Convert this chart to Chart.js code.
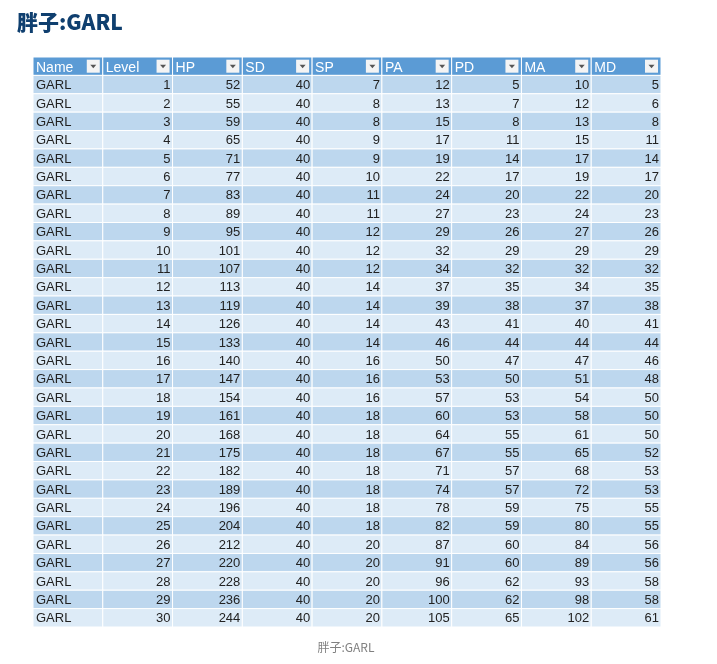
<!DOCTYPE html>
<html>
<head>
<meta charset="utf-8">
<script src="https://cdn.jsdelivr.net/npm/chart.js@4"></script>
<style>
  body { margin: 0; background: #fff; }
  #wrap { position: relative; width: 717px; height: 664px; }
  #title { position: absolute; left: 17px; top: 6px; font: 900 21px "Noto Sans CJK SC", "Liberation Sans", sans-serif; color: #0f3f6f; }
  #caption { position: absolute; left: 0; width: 692px; top: 638px; text-align: center; font: 12px "Noto Sans CJK SC", "Liberation Sans", sans-serif; color: #808080; }
  canvas { position: absolute; left: 0; top: 0; }
</style>
</head>
<body>
<div id="wrap">
  <canvas id="tabla" width="717" height="664"></canvas>
  <div id="title">胖子:GARL</div>
  <div id="caption">胖子:GARL</div>
</div>
<script>
const columnas = ["Name", "Level", "HP", "SD", "SP", "PA", "PD", "MA", "MD"];
const nombre = "GARL";
const level = [1,2,3,4,5,6,7,8,9,10,11,12,13,14,15,16,17,18,19,20,21,22,23,24,25,26,27,28,29,30];
const hp = [52,55,59,65,71,77,83,89,95,101,107,113,119,126,133,140,147,154,161,168,175,182,189,196,204,212,220,228,236,244];
const sd = [40,40,40,40,40,40,40,40,40,40,40,40,40,40,40,40,40,40,40,40,40,40,40,40,40,40,40,40,40,40];
const sp = [7,8,8,9,9,10,11,11,12,12,12,14,14,14,14,16,16,16,18,18,18,18,18,18,18,20,20,20,20,20];
const pa = [12,13,15,17,19,22,24,27,29,32,34,37,39,43,46,50,53,57,60,64,67,71,74,78,82,87,91,96,100,105];
const pd = [5,7,8,11,14,17,20,23,26,29,32,35,38,41,44,47,50,53,53,55,55,57,57,59,59,60,60,62,62,65];
const ma = [10,12,13,15,17,19,22,24,27,29,32,34,37,40,44,47,51,54,58,61,65,68,72,75,80,84,89,93,98,102];
const md = [5,6,8,11,14,17,20,23,26,29,32,35,38,41,44,46,48,50,50,50,52,53,53,55,55,56,56,58,58,61];

const valores = [level, hp, sd, sp, pa, pd, ma, md];
const filas = level.map((_, i) => [nombre].concat(valores.map(v => v[i])));

// dibuja las celdas usando las escalas del grafico
const tablaPlugin = {
  id: "tabla",
  beforeDatasetsDraw(chart) {
    const ctx = chart.ctx;
    const x = chart.scales.x, y = chart.scales.y;
    ctx.save();
    ctx.textBaseline = "middle";
    const nFilas = filas.length + 1;
    for (let r = 0; r < nFilas; r++) {
      const y0 = y.getPixelForValue(r), y1 = y.getPixelForValue(r + 1);
      for (let c = 0; c < columnas.length; c++) {
        const x0 = x.getPixelForValue(c), x1 = x.getPixelForValue(c + 1);
        ctx.fillStyle = r === 0 ? "#5b9bd5" : (r % 2 ? "#bdd7ee" : "#ddebf7");
        ctx.fillRect(x0, y0, x1 - x0, y1 - y0);
        ctx.strokeStyle = "#ffffff";
        ctx.lineWidth = 1;
        ctx.strokeRect(x0, y0, x1 - x0, y1 - y0);
        if (r === 0) {
          ctx.fillStyle = "#ffffff";
          ctx.font = "14px 'Liberation Sans', sans-serif";
          ctx.textAlign = "left";
          ctx.fillText(columnas[c], x0 + 3, (y0 + y1) / 2 + 2);
          // boton de filtro
          const b = 13, bx = x1 - b - 3, by = (y0 + y1) / 2 - b / 2;
          ctx.fillStyle = "#f4f4f4";
          ctx.fillRect(bx, by, b, b);
          ctx.fillStyle = "#555";
          ctx.beginPath();
          ctx.moveTo(bx + 3.5, by + 5);
          ctx.lineTo(bx + 9.5, by + 5);
          ctx.lineTo(bx + 6.5, by + 8.5);
          ctx.closePath();
          ctx.fill();
        } else {
          const v = filas[r - 1][c];
          ctx.fillStyle = "#222";
          ctx.font = "13px 'Liberation Sans', sans-serif";
          if (c === 0) {
            ctx.textAlign = "left";
            ctx.fillText(v, x0 + 3, (y0 + y1) / 2 + 1);
          } else {
            ctx.textAlign = "right";
            ctx.fillText(v, x1 - 2, (y0 + y1) / 2 + 1);
          }
        }
      }
    }
    ctx.restore();
  }
};

new Chart(document.getElementById("tabla"), {
  type: "scatter",
  data: { datasets: [{ data: level.map((l, i) => ({ x: 0.5, y: i + 1.5 })), pointRadius: 0 }] },
  options: {
    responsive: false,
    animation: false,
    events: [],
    layout: { padding: { left: 33, right: 56, top: 57, bottom: 37 } },
    scales: {
      x: { type: "linear", min: 0, max: columnas.length, display: false },
      y: { type: "linear", min: 0, max: filas.length + 1, reverse: true, display: false }
    },
    plugins: { legend: { display: false }, tooltip: { enabled: false } }
  },
  plugins: [tablaPlugin]
});
</script>
</body>
</html>
